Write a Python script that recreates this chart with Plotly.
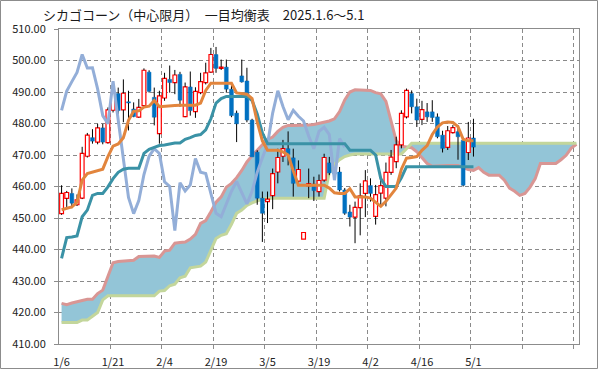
import plotly.graph_objects as go
import pandas as pd

# ---- categories (trading days) ----
dates = [f"{d.month}/{d.day}" for d in pd.bdate_range(
    "2025-01-06", "2025-05-01", freq="C",
    holidays=["2025-01-20", "2025-02-17", "2025-04-18"])]
tick_labels = ["1/6", "1/21", "2/4", "2/19", "3/5", "3/19", "4/2", "4/16", "5/1"]
y_ticks = [410, 420, 430, 440, 450, 460, 470, 480, 490, 500, 510]

# ---- candles ----
open_ = [451.4, 456.2, 457.8, 454.2, 456.3, 469.6, 475.5, 474.1, 478.6, 473.9,
         484.2, 489.5, 484.3, 486.9, 484.6, 482.0, 485.7, 496.3, 488.3, 476.8,
         488.1, 494.0, 493.0, 495.6, 482.2, 491.6, 483.8, 489.8, 493.0, 496.3,
         501.9, 497.5, 497.9, 490.9, 483.3, 495.1, 493.5, 481.1, 470.9, 456.3,
         455.2, 457.1, 464.6, 469.6, 472.0, 469.1, 461.7, 443.3, 460.2, 460.8,
         458.4, 462.0, 467.5, 464.4, 464.6, 458.9, 451.9, 450.3, 453.3, 457.8,
         460.3, 450.5, 457.9, 456.3, 464.5, 467.9, 473.2, 482.1, 489.5, 485.3,
         481.3, 483.7, 483.7, 482.1, 476.3, 472.4, 477.1, 477.4, 474.7, 470.8,
         475.4]
high = [460.4, 458.6, 459.4, 457.5, 472.6, 477.0, 478.2, 479.9, 479.9, 485.1,
        493.0, 491.4, 494.0, 490.4, 486.7, 487.8, 497.5, 496.9, 491.4, 490.4,
        496.1, 498.4, 497.0, 496.4, 493.0, 496.5, 491.5, 496.1, 499.3, 504.0,
        504.3, 500.3, 500.3, 492.9, 484.1, 500.3, 497.7, 481.5, 471.5, 458.4,
        458.4, 465.7, 472.0, 474.8, 477.5, 472.0, 468.3, 445.4, 465.7, 463.1,
        463.8, 470.4, 469.4, 465.0, 466.2, 459.5, 454.2, 455.2, 461.0, 465.2,
        462.6, 460.5, 462.6, 467.6, 471.6, 475.8, 484.2, 491.1, 490.5, 487.9,
        487.2, 486.5, 487.4, 483.2, 477.7, 479.2, 479.5, 479.5, 475.6, 480.5,
        481.5]
low = [451.0, 453.5, 453.1, 453.8, 456.0, 469.2, 473.6, 473.4, 473.4, 473.6,
       483.5, 482.5, 480.4, 477.8, 482.0, 481.8, 485.1, 489.8, 479.4, 473.6,
       487.2, 489.8, 489.3, 485.3, 482.0, 482.5, 481.8, 489.3, 492.4, 496.1,
       496.1, 497.0, 489.8, 482.0, 474.1, 493.0, 480.4, 469.4, 454.2, 442.4,
       448.4, 452.8, 461.0, 467.8, 466.7, 456.8, 461.0, 443.3, 456.3, 455.4,
       456.8, 461.5, 463.6, 463.0, 458.4, 451.0, 447.3, 442.0, 444.5, 450.3,
       455.2, 447.9, 453.7, 453.7, 463.7, 465.8, 472.1, 481.6, 483.2, 478.9,
       479.5, 480.5, 480.5, 475.3, 470.8, 471.6, 476.8, 468.5, 460.0, 468.4,
       469.5]
close = [457.8, 458.1, 454.7, 455.8, 470.5, 476.3, 474.4, 478.6, 474.1, 484.3,
         489.8, 484.1, 489.6, 486.5, 482.2, 485.1, 496.9, 490.2, 482.0, 488.8,
         494.3, 493.0, 495.4, 487.4, 491.6, 484.1, 490.2, 493.3, 496.1, 501.9,
         497.5, 497.9, 490.9, 482.5, 479.9, 493.2, 481.1, 469.4, 456.3, 451.5,
         456.0, 464.1, 469.2, 472.0, 470.1, 461.0, 465.4, 445.4, 460.9, 458.7,
         461.9, 469.2, 464.3, 464.0, 458.9, 451.5, 450.3, 453.4, 457.0, 461.8,
         457.8, 457.4, 460.3, 464.5, 469.3, 473.2, 483.2, 490.5, 485.3, 481.1,
         484.4, 482.1, 481.9, 475.8, 472.1, 477.7, 478.7, 475.8, 460.4, 475.4,
         472.5]

# ---- ichimoku lines ----
tenkan = [452.6, 453.0, 453.5, 455.0, 462.0, 464.1, 464.5, 465.0, 465.5, 469.5,
          472.8, 473.5, 475.5, 481.0, 483.9, 484.0, 485.2, 485.5, 487.3, 485.3,
          485.5, 485.7, 485.7, 485.8, 485.8, 485.8, 485.8, 486.5, 490.5, 492.8,
          492.8, 492.8, 492.8, 492.8, 489.7, 489.5, 489.3, 487.9, 480.5, 474.5,
          471.5, 471.5, 471.5, 471.0, 470.0, 465.0, 460.4, 460.4, 460.4, 460.4,
          460.4, 460.4, 459.5, 458.0, 457.8, 457.8, 459.3, 456.7, 456.7, 456.7,
          456.3, 455.0, 453.7, 455.3, 457.5, 459.5, 465.5, 469.0, 469.2, 469.5,
          471.5, 473.0, 476.5, 478.9, 480.2, 480.5, 480.3, 479.0, 475.0, 474.5,
          474.5]
kijun = [437.2, 443.8, 444.0, 444.3, 450.4, 452.5, 457.2, 457.8, 457.8, 459.9,
         462.5, 464.5, 465.5, 465.8, 465.8, 465.8, 470.5, 471.8, 472.4, 473.0,
         473.2, 473.5, 473.8, 473.8, 475.0, 475.5, 476.2, 476.5, 478.0, 481.5,
         486.5, 487.9, 488.6, 488.6, 488.6, 488.6, 488.6, 487.3, 483.0, 477.0,
         473.6, 473.6, 473.6, 473.6, 473.6, 473.6, 473.6, 473.6, 473.6, 473.6,
         473.6, 473.6, 473.6, 473.6, 473.6, 473.6, 471.5, 471.5, 471.5, 471.5,
         471.5, 470.0, 462.5, 460.0, 460.0, 460.0, 462.8, 466.3, 466.3, 466.3,
         466.3, 466.3, 466.3, 466.3, 466.3, 466.3, 466.3, 466.3, 466.3, 466.3,
         466.3]
chikou = [484.2, 490.3, 493.3, 496.2, 501.9, 497.6, 497.7, 491.0, 482.5, 479.9,
          493.4, 481.5, 469.4, 456.5, 451.4, 455.5, 463.8, 469.6, 472.0, 470.5,
          461.5, 460.0, 446.0, 461.2, 458.6, 460.5, 468.9, 464.5, 464.1, 458.0,
          451.5, 450.4, 454.5, 458.5, 461.6, 457.8, 454.5, 458.5, 464.5, 469.1,
          473.4, 483.3, 490.4, 485.4, 481.2, 484.2, 482.3, 480.8, 476.0, 472.0,
          477.5, 478.8, 476.5, 462.0, 475.2, 472.5]
span_a = [422.9, 422.5, 423.0, 423.4, 423.8, 424.2, 424.2, 426.0, 427.1, 431.5,
          435.8, 436.2, 436.4, 436.5, 436.6, 437.8, 437.9, 437.9, 437.9, 437.5,
          439.5, 439.8, 442.0, 442.2, 442.4, 443.3, 444.8, 448.3, 449.2, 452.0,
          455.0, 456.7, 459.8, 461.0, 462.8, 465.1, 467.8, 469.8, 471.5, 473.5,
          475.0, 475.7, 477.5, 478.8, 479.4, 479.4, 479.4, 479.4, 479.5, 479.7,
          480.0, 480.3, 480.8, 481.5, 483.8, 487.5, 490.0, 490.7, 490.7, 490.7,
          490.5, 489.8, 489.4, 487.0, 481.0, 474.5, 472.8, 472.5, 472.3, 471.0,
          469.0, 467.3, 466.4, 466.4, 466.6, 466.7, 466.7, 466.7, 466.0, 465.4,
          465.1, 466.0, 464.5, 463.6, 463.6, 463.6, 462.0, 459.5, 458.5, 457.2,
          457.8, 459.8, 462.5, 467.3, 467.3, 467.3, 467.3, 468.5, 469.9, 472.2,
          473.4]
span_b = [416.8, 416.8, 416.8, 416.8, 417.6, 417.6, 418.8, 420.0, 424.0, 425.3,
          425.3, 425.3, 425.3, 425.3, 425.3, 425.3, 425.3, 425.3, 425.3, 426.8,
          427.0, 428.5, 429.0, 431.0, 431.5, 434.2, 434.5, 434.7, 436.0, 439.5,
          443.5, 444.5, 445.0, 448.0, 451.5, 452.5, 454.0, 454.8, 455.5, 456.0,
          456.3, 456.3, 456.3, 456.3, 456.3, 456.3, 456.3, 456.3, 456.3, 456.3,
          456.3, 456.3, 464.5, 467.0, 468.5, 469.5, 470.0, 470.3, 470.3, 470.3,
          470.3, 470.3, 470.3, 470.3, 470.3, 470.3, 470.3, 472.0, 473.7, 473.7,
          473.7, 473.7, 473.7, 473.7, 473.7, 473.7, 473.7, 473.7, 473.7, 473.7,
          473.7, 473.7, 473.7, 473.7, 473.7, 473.7, 473.7, 473.7, 473.7, 473.7,
          473.7, 473.7, 473.7, 473.7, 473.7, 473.7, 473.7, 473.7, 473.7, 473.7,
          473.7]

# ---- styles ----
GRID = "#8a8a8a"
AXC = "#8c8c8c"
CLOUD = "#93C5D7"
PINK = "#D99694"
GREEN = "#C3D69B"
TEAL = "#3A92A6"
ORANGE = "#E2853D"
CHIKOU = "#93AED8"
UPC = "#FF0000"
DNC = "#0070C0"

xi = list(range(len(close)))
xc = list(range(len(span_a)))
xl = list(range(len(chikou)))

fig = go.Figure()

# cloud (main axis, below candles)
fig.add_trace(go.Scatter(x=xc, y=span_b, mode="lines", line=dict(width=0, color=GREEN),
                         hoverinfo="skip"))
fig.add_trace(go.Scatter(x=xc, y=span_a, mode="lines", line=dict(width=0, color=PINK),
                         fill="tonexty", fillcolor=CLOUD, hoverinfo="skip"))
fig.add_trace(go.Scatter(x=xc, y=span_a, mode="lines", line=dict(width=3, color=PINK)))
fig.add_trace(go.Scatter(x=xc, y=span_b, mode="lines", line=dict(width=3, color=GREEN)))

# candle bodies (overlay axis)
up_i = [i for i in xi if close[i] >= open_[i]]
dn_i = [i for i in xi if close[i] < open_[i]]
fig.add_trace(go.Bar(
    x=up_i, base=[open_[i] for i in up_i],
    y=[max(close[i] - open_[i], 0.3) for i in up_i],
    width=0.74, yaxis="y2",
    marker=dict(color="white", line=dict(color=UPC, width=1.2))))
fig.add_trace(go.Bar(
    x=dn_i, base=[close[i] for i in dn_i],
    y=[max(open_[i] - close[i], 0.3) for i in dn_i],
    width=0.74, yaxis="y2",
    marker=dict(color=DNC, line=dict(color=DNC, width=0.5))))

# wicks (drawn outside the bodies)
wx, wy = [], []
for i in xi:
    lo_b = min(open_[i], close[i])
    hi_b = max(open_[i], close[i])
    wx += [i, i, None, i, i, None]
    wy += [low[i], lo_b, None, hi_b, high[i], None]
fig.add_trace(go.Scatter(x=wx, y=wy, mode="lines", yaxis="y2",
                         line=dict(color="black", width=1), hoverinfo="skip"))

# lines
fig.add_trace(go.Scatter(x=xl, y=chikou, mode="lines", yaxis="y2",
                         line=dict(color=CHIKOU, width=3)))
fig.add_trace(go.Scatter(x=xi, y=kijun, mode="lines", yaxis="y2",
                         line=dict(color=TEAL, width=3)))
fig.add_trace(go.Scatter(x=xi, y=tenkan, mode="lines", yaxis="y2",
                         line=dict(color=ORANGE, width=3)))

tickvals = [dates.index(t) for t in tick_labels]
grid_x = [t - 0.5 for t in range(10, 101, 10)]

fig.update_layout(
    width=599, height=370,
    margin=dict(l=59, r=20, t=29, b=26, autoexpand=False),
    paper_bgcolor="white", plot_bgcolor="white",
    showlegend=False, barmode="overlay",
    font=dict(family="Noto Sans CJK JP", size=11, color="#222222"),
    title=dict(text="シカゴコーン（中心限月）　一目均衡表　2025.1.6～5.1",
               x=43 / 599, xanchor="left", y=1 - 15 / 370, yanchor="middle",
               font=dict(family="Noto Sans CJK JP", size=13, color="#1a1a1a")),
    xaxis=dict(range=[-0.5, 100.5], tickmode="array", tickvals=tickvals,
               ticktext=tick_labels, ticks="", showgrid=False, zeroline=False,
               showline=True, linecolor=AXC, linewidth=1, mirror=True,
               ticklabelstandoff=8, automargin=False, fixedrange=True,
               minor=dict(tickmode="array", tickvals=grid_x, ticks="outside",
                          ticklen=4, tickcolor=AXC, showgrid=True,
                          gridcolor=GRID, gridwidth=1, griddash="4px,3px")),
    yaxis=dict(range=[410, 510], tickmode="array", tickvals=y_ticks,
               tickformat=".2f", ticks="outside", ticklen=4, tickcolor=AXC,
               showgrid=True, gridcolor=GRID, gridwidth=1, griddash="4px,3px",
               showline=True, linecolor=AXC, linewidth=1, mirror=True,
               zeroline=False, ticklabelstandoff=6, automargin=False,
               fixedrange=True),
    yaxis2=dict(range=[410, 510], overlaying="y", visible=False, fixedrange=True),
)

# outer chart frame
fig.add_shape(type="rect", xref="paper", yref="paper",
              x0=(0.5 - 59) / 520, x1=(597.5 - 59) / 520,
              y0=-(368.5 - 344) / 315, y1=1 + (29 - 0.5) / 315,
              line=dict(color=AXC, width=1))

fig.write_html("out.html",
               config={"displayModeBar": False},
               post_script="document.body.style.margin='0px';"
                           "document.body.style.overflow='hidden';")
